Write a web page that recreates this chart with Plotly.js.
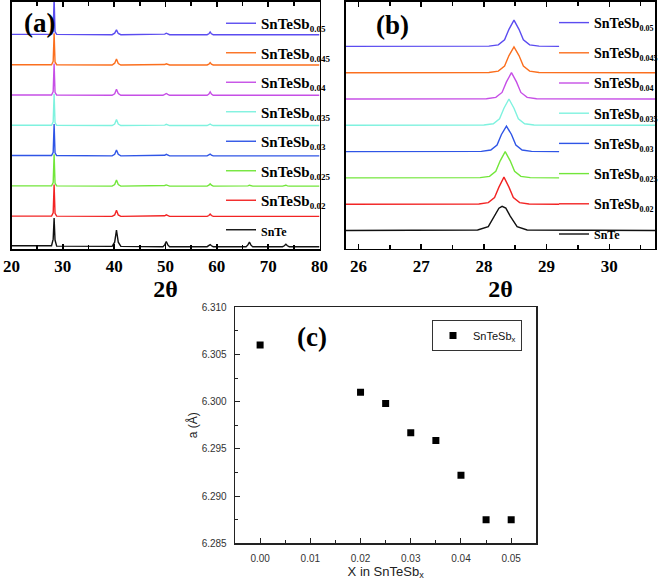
<!DOCTYPE html>
<html>
<head>
<meta charset="utf-8">
<script src="https://cdn.plot.ly/plotly-3.0.1.min.js"></script>
<style>html,body{margin:0;padding:0;background:#fff;} #chart{width:660px;height:582px;}</style>
</head>
<body>
<div id="chart"></div>
<script>
// ---------- data ----------
const sampleBase = ['SnTeSb', 'SnTeSb', 'SnTeSb', 'SnTeSb', 'SnTeSb', 'SnTeSb', 'SnTeSb', 'SnTe'];
const sampleSub = ['0.05', '0.045', '0.04', '0.035', '0.03', '0.025', '0.02', ''];
const sampleColors = ['#5b4cf0', '#fb6f1e', '#c64fe6', '#7ff2df', '#2f55e6', '#72e63a', '#f22424', '#111111'];
const stackIndex = [7, 6, 5, 4, 3, 2, 1, 0];

// (a) wide-range XRD: shared 2θ grid and intensities (a.u., before stacking)
const twoThetaA = [20,
  27.8, 28.12, 28.3, 28.48, 28.8,
  39.6, 40.1, 40.45, 40.8, 41.3,
  49.5, 49.85, 50.15, 50.45, 50.8,
  58.1, 58.45, 58.7, 58.95, 59.3,
  65.7, 66.05, 66.35, 66.65, 67.0,
  72.8, 73.15, 73.45, 73.75, 74.1,
  80];
const intA_005  = [0.01, 0.01,0.12,1.2,0.1,0.01,  0,0.05,0.16,0.04,0,  0,0.02,0.05,0.02,0,  0,0.03,0.09,0.03,0,  0,0,0.01,0,0,  0,0,0.01,0,0,  0];
const intA_0045 = [0.01, 0.01,0.12,1.05,0.1,0.01, 0,0.06,0.2,0.05,0,   0,0.015,0.04,0.015,0, 0,0.03,0.08,0.03,0, 0,0,0.01,0,0,  0,0,0.01,0,0,  0];
const intA_004  = [0.01, 0.01,0.12,1.05,0.1,0.01, 0,0.05,0.2,0.06,0,   0,0.03,0.06,0.03,0,  0,0.04,0.11,0.04,0,  0,0,0.01,0,0,  0,0,0.01,0,0,  0];
const intA_0035 = [0.01, 0.01,0.12,1.05,0.1,0.01, 0,0.05,0.2,0.05,0,   0,0.015,0.04,0.015,0, 0,0.02,0.05,0.02,0, 0,0,0.01,0,0,  0,0,0.01,0,0,  0];
const intA_003  = [0.01, 0.01,0.12,1.05,0.1,0.01, 0,0.05,0.19,0.05,0,  0,0.02,0.05,0.02,0,  0,0.02,0.06,0.02,0,  0,0,0.01,0,0,  0,0.01,0.02,0.01,0, 0];
const intA_0025 = [0.01, 0.01,0.12,1.05,0.1,0.01, 0,0.05,0.2,0.05,0,   0,0.02,0.04,0.02,0,  0,0.03,0.08,0.03,0,  0,0.01,0.03,0.01,0, 0,0.01,0.03,0.01,0, 0];
const intA_002  = [0.01, 0.01,0.12,1.05,0.1,0.01, 0,0.05,0.2,0.05,0,   0,0.02,0.05,0.02,0,  0,0.03,0.08,0.03,0,  0,0.005,0.015,0.005,0, 0,0.005,0.01,0.005,0, 0];
const intA_SnTe = [0.03, 0.03,0.25,0.95,0.22,0.02, 0.01,0.15,0.55,0.15,0.01, 0,0.06,0.17,0.06,0, 0,0.03,0.07,0.03,0, 0,0.06,0.15,0.05,0, 0,0.03,0.08,0.03,0, 0];
const intA = [intA_005, intA_0045, intA_004, intA_0035, intA_003, intA_0025, intA_002, intA_SnTe];

// (b) zoom on the (200) peak
const twoThetaB_005  = [25.8, 28.08, 28.23, 28.33, 28.40, 28.48, 28.56, 28.63, 28.73, 28.88, 29.2];
const intB_005       = [0, 0.01, 0.06, 0.25, 0.65, 1.0, 0.65, 0.25, 0.06, 0.01, 0];
const twoThetaB_0045 = [25.8, 28.08, 28.23, 28.33, 28.40, 28.48, 28.56, 28.63, 28.73, 28.88, 30.8];
const intB_0045      = [0, 0.01, 0.06, 0.25, 0.65, 0.98, 0.65, 0.25, 0.06, 0.01, 0];
const twoThetaB_004  = [25.8, 28.04, 28.19, 28.29, 28.36, 28.44, 28.52, 28.59, 28.69, 28.84, 30.8];
const intB_004       = [0, 0.01, 0.06, 0.25, 0.65, 1.0, 0.65, 0.25, 0.06, 0.01, 0];
const twoThetaB_0035 = [25.8, 28.0, 28.15, 28.25, 28.32, 28.40, 28.48, 28.55, 28.65, 28.8, 30.8];
const intB_0035      = [0, 0.01, 0.06, 0.25, 0.65, 1.0, 0.65, 0.25, 0.06, 0.01, 0];
const twoThetaB_003  = [25.8, 27.96, 28.11, 28.21, 28.28, 28.36, 28.44, 28.51, 28.61, 28.76, 29.2];
const intB_003       = [0, 0.01, 0.06, 0.25, 0.65, 0.97, 0.65, 0.25, 0.06, 0.01, 0];
const twoThetaB_0025 = [25.8, 27.94, 28.09, 28.19, 28.26, 28.34, 28.42, 28.49, 28.59, 28.74, 29.2];
const intB_0025      = [0, 0.01, 0.06, 0.25, 0.65, 1.0, 0.65, 0.25, 0.06, 0.01, 0];
const twoThetaB_002  = [25.8, 27.92, 28.07, 28.17, 28.24, 28.32, 28.40, 28.47, 28.57, 28.72, 29.2];
const intB_002       = [0, 0.01, 0.06, 0.25, 0.65, 1.03, 0.65, 0.25, 0.06, 0.01, 0];
const twoThetaB_SnTe = [25.8, 27.9, 28.07, 28.17, 28.24, 28.29, 28.35, 28.42, 28.53, 28.69, 30.8];
const intB_SnTe      = [0, 0.02, 0.15, 0.55, 0.85, 0.92, 0.85, 0.55, 0.15, 0.02, 0];
const twoThetaB = [twoThetaB_005, twoThetaB_0045, twoThetaB_004, twoThetaB_0035, twoThetaB_003, twoThetaB_0025, twoThetaB_002, twoThetaB_SnTe];
const intB = [intB_005, intB_0045, intB_004, intB_0035, intB_003, intB_0025, intB_002, intB_SnTe];

// (c) lattice parameter
const xSb = [0.000, 0.020, 0.025, 0.030, 0.035, 0.040, 0.045, 0.050];
const latticeA = [6.3060, 6.3010, 6.2998, 6.2967, 6.2959, 6.2922, 6.2875, 6.2875];

// ---------- traces ----------
const STACK = 1.0;
const serif = 'Liberation Serif, Times New Roman, serif';
const sans = 'Liberation Sans, Arial, sans-serif';
const legendName = (i, subSize, baseSize) => sampleSub[i]
  ? sampleBase[i] + '<sub><span style="font-size:' + subSize + 'px">' + sampleSub[i] + '</span></sub>'
  : '<span style="font-size:' + baseSize + 'px">' + sampleBase[i] + '</span>';
const traces = [];
sampleBase.forEach((_, i) => {
  traces.push({
    type: 'scatter', mode: 'lines', x: twoThetaA,
    y: intA[i].map(v => v + stackIndex[i] * STACK),
    name: legendName(i, 9, 12), legend: 'legend', legendgroup: 'a' + i,
    line: {color: sampleColors[i], width: 1.4}, xaxis: 'x', yaxis: 'y', hoverinfo: 'skip'
  });
});
sampleBase.forEach((_, i) => {
  traces.push({
    type: 'scatter', mode: 'lines', x: twoThetaB[i],
    y: intB[i].map(v => v + stackIndex[i] * STACK),
    name: legendName(i, 8, 12), legend: 'legend2', legendgroup: 'b' + i,
    line: {color: sampleColors[i], width: 1.4}, xaxis: 'x2', yaxis: 'y2', hoverinfo: 'skip'
  });
});
traces.push({
  type: 'scatter', mode: 'markers', x: xSb, y: latticeA, name: 'SnTeSb<sub>x</sub>',
  legend: 'legend3', marker: {symbol: 'square', size: 7, color: '#000'}, xaxis: 'x3', yaxis: 'y3'
});

// ---------- layout ----------
const W = 660, H = 582;
const px = v => v / W;
const py = v => 1 - v / H;
const tickFontS = {family: serif, size: 17, color: '#000', weight: 'bold'};
const xrdX = {
  showline: true, linecolor: '#000', linewidth: 1.8, mirror: 'ticks',
  ticks: 'inside', ticklen: 5, tickwidth: 1.5, tickcolor: '#000',
  tickfont: tickFontS, showgrid: false, zeroline: false, ticklabelstandoff: 1,
  title: {text: '2θ', font: {family: serif, size: 24, color: '#000', weight: 'bold'}, standoff: 0}
};
const xrdY = {showline: true, linecolor: '#000', linewidth: 1.8, mirror: true, ticks: '',
  showticklabels: false, showgrid: false, zeroline: false};
const legendXRD = {
  bgcolor: 'rgba(0,0,0,0)', borderwidth: 0, traceorder: 'grouped', tracegroupgap: 7,
  font: {family: serif, size: 15, color: '#000', weight: 'bold'}, xanchor: 'left', yanchor: 'top', itemwidth: 30
};

const layout = {
  width: W, height: H, margin: {l: 0, r: 0, t: 0, b: 0, autoexpand: false},
  paper_bgcolor: '#fff', plot_bgcolor: '#fff', showlegend: true,
  xaxis: Object.assign({}, xrdX, {domain: [px(11.5), px(319.5)], range: [20, 80], dtick: 10, tick0: 0,
    minor: {dtick: 5, ticks: 'inside', ticklen: 4, tickcolor: '#000'}, anchor: 'y'}),
  yaxis: Object.assign({}, xrdY, {domain: [py(249), py(2)], range: [-0.076, 8.08], anchor: 'x'}),
  xaxis2: Object.assign({}, xrdX, {domain: [px(346), px(655)], range: [25.8, 30.73], dtick: 1, tick0: 0,
    minor: {dtick: 0.5, ticks: 'inside', ticklen: 4, tickcolor: '#000'}, anchor: 'y2'}),
  yaxis2: Object.assign({}, xrdY, {domain: [py(248.5), py(2)], range: [-0.684, 8.688], anchor: 'x2'}),
  xaxis3: {domain: [px(235), px(536.3)], range: [-0.005, 0.055], anchor: 'y3',
    showline: true, linecolor: '#222', linewidth: 1.3, mirror: true,
    ticks: 'inside', ticklen: 5, tickcolor: '#222', dtick: 0.01, tick0: 0, tickformat: '.2f',
    minor: {dtick: 0.005, ticks: 'inside', ticklen: 3, tickcolor: '#222'},
    tickfont: {family: sans, size: 10, color: '#333'}, ticklabelstandoff: 5,
    showgrid: false, zeroline: false,
    title: {text: 'X in SnTeSb<sub>x</sub>', font: {family: sans, size: 13, color: '#222'}, standoff: 0}},
  yaxis3: {domain: [py(543.3), py(307.3)], range: [6.285, 6.310], anchor: 'x3',
    showline: true, linecolor: '#222', linewidth: 1.3, mirror: true,
    ticks: 'inside', ticklen: 5, tickcolor: '#222', dtick: 0.005, tick0: 6.285, tickformat: '.3f',
    minor: {dtick: 0.0025, ticks: 'inside', ticklen: 3, tickcolor: '#222'},
    tickfont: {family: sans, size: 10, color: '#333'}, ticklabelstandoff: 5,
    showgrid: false, zeroline: false,
    title: {text: 'a (Å)', font: {family: sans, size: 12, color: '#222'}, standoff: 1}},
  legend: Object.assign({}, legendXRD, {x: px(221), y: py(7)}),
  legend2: Object.assign({}, legendXRD, {x: px(554), y: py(7), font: {family: serif, size: 14, color: '#000', weight: 'bold'}, tracegroupgap: 9}),
  legend3: {x: px(432), y: py(320), xanchor: 'left', yanchor: 'top', bgcolor: '#fff',
    bordercolor: '#333', borderwidth: 1, font: {family: sans, size: 11, color: '#111'}},
  annotations: [
    {text: '(a)', x: px(39), y: py(23), xref: 'paper', yref: 'paper', xanchor: 'center', yanchor: 'middle',
      showarrow: false, font: {family: serif, size: 27, color: '#000', weight: 'bold'}},
    {text: '(b)', x: px(392), y: py(25), xref: 'paper', yref: 'paper', xanchor: 'center', yanchor: 'middle',
      showarrow: false, font: {family: serif, size: 27, color: '#000', weight: 'bold'}},
    {text: '(c)', x: px(312), y: py(337), xref: 'paper', yref: 'paper', xanchor: 'center', yanchor: 'middle',
      showarrow: false, font: {family: serif, size: 27, color: '#000', weight: 'bold'}}
  ]
};

Plotly.newPlot('chart', traces, layout, {staticPlot: true, displayModeBar: false});
</script>
</body>
</html>
